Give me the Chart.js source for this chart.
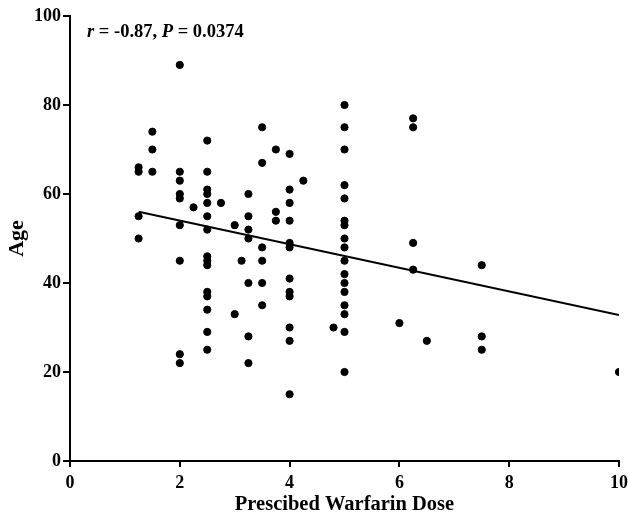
<!DOCTYPE html>
<html>
<head>
<meta charset="utf-8">
<script src="https://cdn.jsdelivr.net/npm/chart.js@4/dist/chart.umd.min.js"></script>
<style>
  body { margin: 0; background: #fff; }
  #wrap { width: 628px; height: 516px; }
</style>
</head>
<body>
<div id="wrap"><canvas id="ageChart" width="628" height="516"></canvas></div>
<script>
// dose (x) and age (y) of each patient
const doseX = [
  1.25, 1.25, 1.25, 1.25,
  1.5, 1.5, 1.5,
  2, 2, 2, 2, 2, 2, 2, 2, 2,
  2.25,
  2.5, 2.5, 2.5, 2.5, 2.5, 2.5, 2.5, 2.5, 2.5, 2.5, 2.5, 2.5, 2.5, 2.5, 2.5,
  2.75,
  3, 3,
  3.125,
  3.25, 3.25, 3.25, 3.25, 3.25, 3.25, 3.25,
  3.5, 3.5, 3.5, 3.5, 3.5, 3.5,
  3.75, 3.75, 3.75,
  4, 4, 4, 4, 4, 4, 4, 4, 4, 4, 4, 4,
  4.25,
  4.8,
  5, 5, 5, 5, 5, 5, 5, 5, 5, 5, 5, 5, 5, 5, 5, 5, 5,
  6,
  6.25, 6.25, 6.25, 6.25,
  6.5,
  7.5, 7.5, 7.5,
  10
];
const ageY = [
  66, 65, 55, 50,
  74, 70, 65,
  89, 65, 63, 60, 59, 53, 45, 24, 22,
  57,
  72, 65, 61, 60, 58, 55, 52, 46, 45, 44, 38, 37, 34, 29, 25,
  58,
  53, 33,
  45,
  60, 55, 52, 50, 40, 28, 22,
  75, 67, 48, 45, 40, 35,
  70, 56, 54,
  69, 61, 58, 54, 49, 48, 41, 38, 37, 30, 27, 15,
  63,
  30,
  80, 75, 70, 62, 59, 54, 53, 50, 48, 45, 42, 40, 38, 35, 33, 29, 20,
  31,
  77, 75, 49, 43,
  27,
  44, 28, 25,
  20
];

// fitted regression line ends
const fitX = [1.25, 10];
const fitY = [56, 32.8];

const xTicks = [0, 2, 4, 6, 8, 10];
const yTicks = [0, 20, 40, 60, 80, 100];

const serif = "'Liberation Serif', 'Times New Roman', serif";

const points = doseX.map((x, i) => ({ x: x, y: ageY[i] }));
const fitLine = fitX.map((x, i) => ({ x: x, y: fitY[i] }));

// r / P annotation in the top left corner
const statsLabel = {
  id: 'statsLabel',
  afterDraw(chart) {
    const c = chart.ctx;
    const parts = [
      { t: 'r', it: true },
      { t: ' = -0.87, ', it: false },
      { t: 'P', it: true },
      { t: ' = 0.0374', it: false }
    ];
    let x = 87;
    const y = 37;
    c.save();
    c.fillStyle = '#000';
    c.textBaseline = 'alphabetic';
    parts.forEach(p => {
      c.font = (p.it ? 'italic ' : '') + 'bold 18.5px ' + serif;
      c.fillText(p.t, x, y);
      x += c.measureText(p.t).width;
    });
    c.restore();
  }
};

const tickFont = { family: serif, size: 18, weight: 'bold' };

new Chart(document.getElementById('ageChart'), {
  type: 'scatter',
  data: {
    datasets: [
      {
        label: 'Patients',
        data: points,
        backgroundColor: '#000',
        borderColor: '#000',
        pointRadius: 3.6,
        pointHoverRadius: 3.6
      },
      {
        label: 'Fit',
        type: 'line',
        data: fitLine,
        borderColor: '#000',
        borderWidth: 2,
        pointRadius: 0,
        fill: false,
        tension: 0
      }
    ]
  },
  options: {
    responsive: false,
    animation: false,
    layout: { padding: { top: 16, right: 9, left: 0, bottom: 0 } },
    plugins: {
      legend: { display: false },
      tooltip: { enabled: false }
    },
    scales: {
      x: {
        type: 'linear',
        min: 0,
        max: 10,
        afterBuildTicks: (axis) => { axis.ticks = xTicks.map(v => ({ value: v })); },
        afterFit: (axis) => {
          axis.height = 55;
          axis.paddingLeft = 0;
          axis.paddingRight = 0;
        },
        ticks: { color: '#000', font: tickFont, padding: 6, maxRotation: 0 },
        grid: { drawOnChartArea: false, color: '#000', lineWidth: 2, tickLength: 6 },
        border: { color: '#000', width: 2 },
        title: { display: true, text: 'Prescibed Warfarin Dose', color: '#000', font: { family: serif, size: 20.5, weight: 'bold' }, padding: { top: 4, bottom: -1 } }
      },
      y: {
        min: 0,
        max: 100,
        afterBuildTicks: (axis) => { axis.ticks = yTicks.map(v => ({ value: v })); },
        afterFit: (axis) => { axis.width = 70; },
        ticks: { color: '#000', font: tickFont, padding: 2 },
        grid: { drawOnChartArea: false, color: '#000', lineWidth: 2, tickLength: 7 },
        border: { color: '#000', width: 2 },
        title: { display: true, text: 'Age', color: '#000', font: { family: serif, size: 22, weight: 'bold' }, padding: { top: 4, bottom: 0 } }
      }
    }
  },
  plugins: [statsLabel]
});
</script>
</body>
</html>
